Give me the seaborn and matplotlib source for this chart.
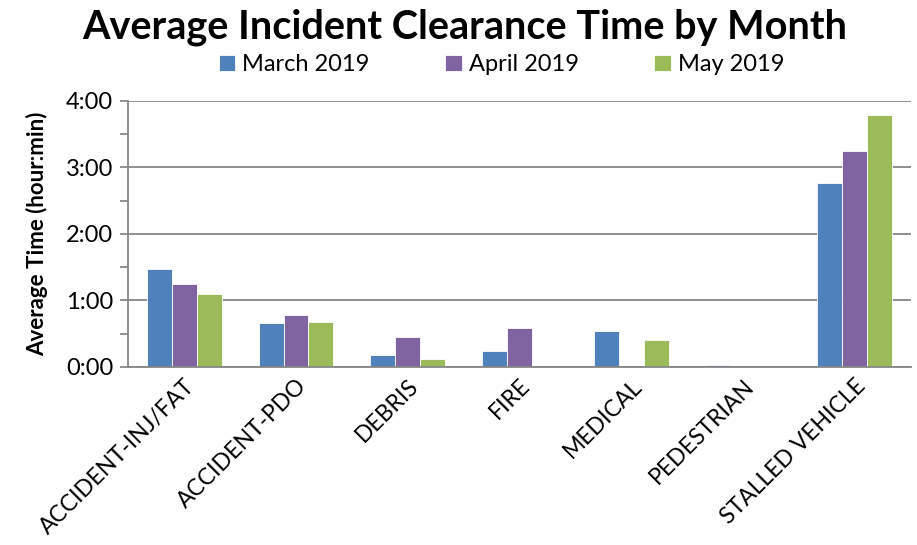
import numpy as np
import pandas as pd
import seaborn as sns
import matplotlib.pyplot as plt
from matplotlib.ticker import FuncFormatter, FixedLocator

categories = ["ACCIDENT-INJ/FAT", "ACCIDENT-PDO", "DEBRIS", "FIRE",
              "MEDICAL", "PEDESTRIAN", "STALLED VEHICLE"]
months = ["March 2019", "April 2019", "May 2019"]
# average clearance time in hours
march = [1.465, 0.66, 0.17, 0.23, 0.54, 0.02, 2.76]
april = [1.24, 0.78, 0.45, 0.58, 0.0, 0.0, 3.24]
may = [1.10, 0.68, 0.11, 0.0, 0.40, 0.0, 3.79]
colors = ["#4F81BD", "#8064A2", "#9BBB59"]

df = pd.DataFrame({
    "category": categories * 3,
    "month": [m for m in months for _ in categories],
    "hours": march + april + may,
})

sns.set_style("white")
plt.rcParams["font.family"] = ["Lato", "DejaVu Sans"]
plt.rcParams["text.color"] = "black"
plt.rcParams["axes.labelcolor"] = "black"
plt.rcParams["xtick.color"] = "black"
plt.rcParams["ytick.color"] = "black"

fig = plt.figure(figsize=(9.17, 5.45), dpi=100)
ax = fig.add_axes([0.14, 0.327, 0.853, 0.488])

sns.barplot(data=df, x="category", y="hours", hue="month", order=categories,
            hue_order=months, palette=colors, width=0.67, saturation=1,
            edgecolor="white", linewidth=0.6, ax=ax, legend=True)

ax.set_ylim(0, 4)
ax.set_xlim(-0.5, 6.5)
ax.yaxis.set_major_locator(FixedLocator([0, 1, 2, 3, 4]))
ax.yaxis.set_minor_locator(FixedLocator([0.5, 1.5, 2.5, 3.5]))
ax.yaxis.set_major_formatter(FuncFormatter(lambda v, p: f"{int(v)}:{int(round((v % 1) * 60)):02d}"))
ax.grid(axis="y", color="#868686", linewidth=1.3)
ax.set_axisbelow(True)

ax.xaxis.set_minor_locator(FixedLocator(np.arange(-0.5, 7, 1)))
ax.tick_params(axis="x", which="major", length=0, labelsize=16.5, pad=6)
ax.tick_params(axis="x", which="minor", length=7, width=1.3, color="#868686", direction="out")
ax.tick_params(axis="y", which="both", left=True, length=6, width=1.3, color="#868686",
               direction="out", labelsize=17, pad=5)
plt.setp(ax.get_xticklabels(), rotation=45, ha="right", rotation_mode="anchor")

for s in ["top", "right"]:
    ax.spines[s].set_visible(False)
for s in ["left", "bottom"]:
    ax.spines[s].set_color("#868686")
    ax.spines[s].set_linewidth(1.3)

ax.set_xlabel("")
ax.set_ylabel("Average Time (hour:min)", fontsize=16, fontweight="bold", labelpad=13)

ax.legend(loc="center", bbox_to_anchor=(0.547, 0.881), bbox_transform=fig.transFigure,
          ncol=3, frameon=False, fontsize=17, handlelength=0.7, handleheight=0.7,
          handletextpad=0.3, columnspacing=3.2)

fig.text(0.507, 0.95, "Average Incident Clearance Time by Month", fontsize=28.5,
         fontweight="bold", ha="center", va="center")

fig.savefig("out.png", dpi=100)
